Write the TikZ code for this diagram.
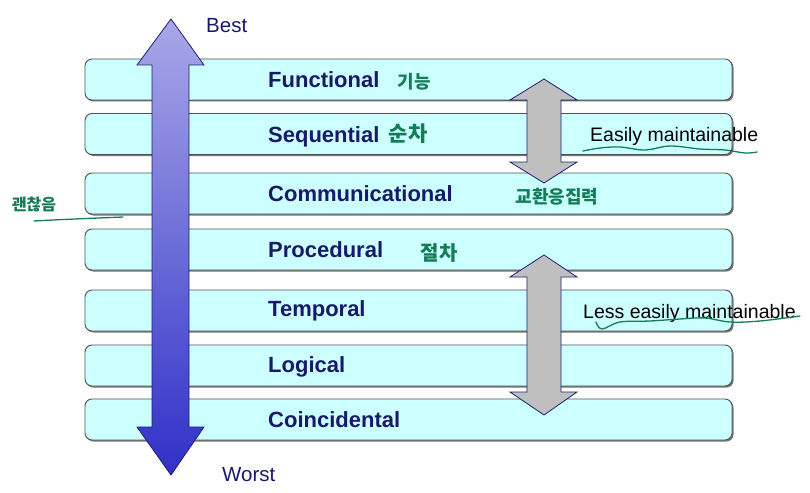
\documentclass[tikz,border=0pt]{standalone}
\usepackage{fontspec}
\setmainfont{Liberation Sans}
\newfontfamily\hangul{Noto Sans CJK KR}
\begin{document}
\definecolor{barfill}{HTML}{CCFFFF}
\definecolor{barline}{HTML}{505050}
\definecolor{navy}{RGB}{25,25,105}
\definecolor{arrowtop}{HTML}{A8A8E8}
\definecolor{arrowbot}{HTML}{3030C8}
\definecolor{arrowline}{HTML}{1E1E78}
\definecolor{pen}{HTML}{147D55}
\begin{tikzpicture}[x=1pt,y=-1pt,
  levelbar/.style={draw=barline,line width=0.9pt,fill=barfill,rounded corners=7pt,
    minimum width=647pt,minimum height=41pt,inner sep=0pt},
  barshadow/.style={fill=black!55,rounded corners=7pt},
  level/.style={anchor=base west,font=\fontsize{22}{24}\selectfont\bfseries,text=navy,inner sep=0pt},
  endlabel/.style={anchor=base west,font=\fontsize{20.5}{24}\selectfont,text=navy,inner sep=0pt},
  note/.style={anchor=base west,font=\fontsize{19.5}{22}\selectfont,text=black,inner sep=0pt},
  hand/.style={text=pen,inner sep=0pt,font=\hangul\bfseries\fontsize{18}{20}\selectfont},
  penline/.style={draw=pen,line width=1.3pt,line cap=round},
  grayarrow/.style={fill=black!25,draw=arrowline,line width=0.8pt,line join=miter}]
\useasboundingbox (0,0) rectangle (810,492);

% cohesion levels, each with a small drop shadow
\foreach \i/\yc in {1/79.5,2/134,3/193.5,4/249.5,5/310.5,6/365.5,7/419.5}{
  \fill[barshadow] (86.5,\yc-19) rectangle (733.5,\yc+22);
  \node[levelbar] (bar\i) at (408.5,\yc) {};
}
\node[level] (functional) at (268,87.5) {Functional};
\node[level] (sequential) at (268,142) {Sequential};
\node[level] (communicational) at (268,201.5) {Communicational};
\node[level] (procedural) at (268,257.5) {Procedural};
\node[level] (temporal) at (268,316) {Temporal};
\node[level] (logical) at (268,372.5) {Logical};
\node[level] (coincidental) at (268,427.5) {Coincidental};

% best-to-worst scale arrow
\shade[top color=arrowtop,bottom color=arrowbot]
  (171,19) -- (204,65) -- (189,65) -- (189,427) -- (204,427) -- (171,475)
  -- (137,427) -- (152,427) -- (152,65) -- (137,65) -- cycle;
\draw[arrowline,line width=0.8pt,line join=miter]
  (171,19) -- (204,65) -- (189,65) -- (189,427) -- (204,427) -- (171,475)
  -- (137,427) -- (152,427) -- (152,65) -- (137,65) -- cycle;
\node[endlabel] (best) at (206,33) {Best};
\node[endlabel] (worst) at (222,481) {Worst};

% maintainability ranges
\draw[grayarrow]
  (544,79) -- (577,100) -- (561,100) -- (561,162) -- (577,162) -- (544,183)
  -- (510,162) -- (527,162) -- (527,100) -- (510,100) -- cycle;
\draw[grayarrow]
  (544,255) -- (577,277) -- (561,277) -- (561,392) -- (577,392) -- (544,415)
  -- (510,392) -- (527,392) -- (527,277) -- (510,277) -- cycle;
\node[note] (easy) at (590,141.5) {Easily maintainable};
\node[note] (lesseasy) at (583,318) {Less easily maintainable};

% handwritten notes
\node[hand] (n1) at (414,82) {기능};
\node[hand,font=\hangul\bfseries\fontsize{21}{22}\selectfont] (n2) at (408,134) {순차};
\node[hand] (n3) at (557,197) {교환응집력};
\node[hand,font=\hangul\bfseries\fontsize{20}{22}\selectfont] (n4) at (439,253) {절차};
\node[hand,font=\hangul\bfseries\fontsize{16}{18}\selectfont] (n5) at (34,205) {괜찮음};
\draw[penline] (34,221) .. controls (70,219) and (100,218) .. (123,217);
\draw[penline] plot[smooth,tension=0.6] coordinates
  {(583,151) (600,148) (620,147) (645,150) (670,146) (700,149) (725,150) (745,153) (757,152)};
\draw[penline] plot[smooth,tension=0.6] coordinates
  {(596,322) (602,329) (620,322) (650,321) (680,319) (705,318) (730,322) (760,321) (800,316)};
\end{tikzpicture}
\end{document}
